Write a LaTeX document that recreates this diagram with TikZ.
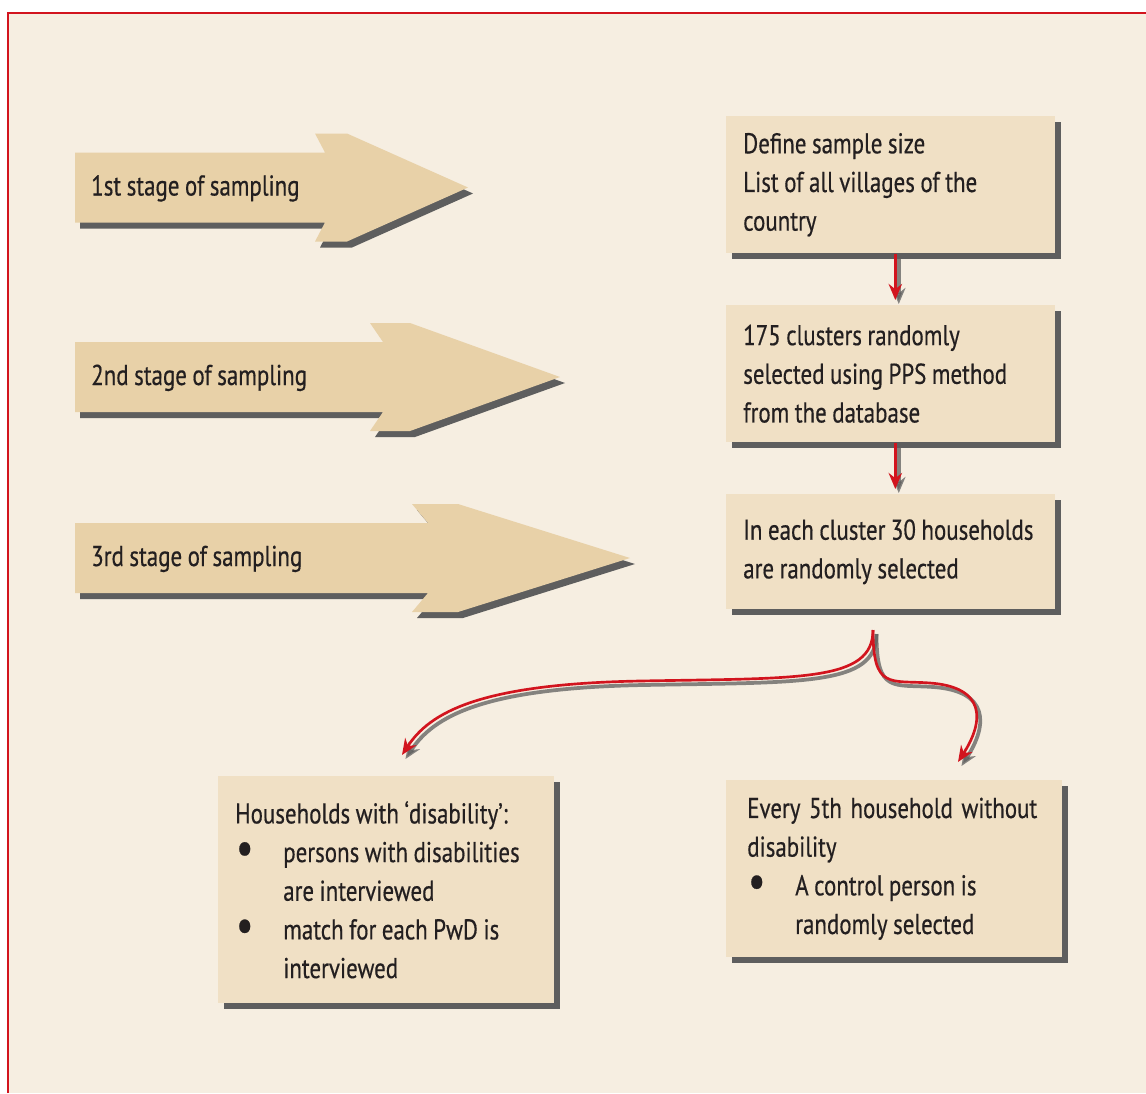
\documentclass[tikz,border=0pt]{standalone}
\usepackage{fontspec}
\setmainfont{PT Sans}[FakeStretch=0.8,FakeBold=0.45,WordSpace=0.9]
\usepackage{graphicx}
\usepackage{tikz}
\usetikzlibrary{arrows.meta,shadows}
\usepackage{xcolor}
\definecolor{pagebg}{HTML}{F6EEE1}
\definecolor{boxfill}{HTML}{F0E0C5}
\definecolor{arrowfill}{HTML}{E8D1A8}
\definecolor{linkred}{HTML}{D2141E}
\definecolor{inkdark}{HTML}{231F20}
\definecolor{shadowgray}{HTML}{5E5E5E}
\newcommand\boxfont{\fontsize{21.5}{29}\selectfont}
\newcommand\blt{\makebox[36pt][l]{\hspace{0.5pt}\raisebox{-1.5pt}{\scalebox{1.7}{\textbullet}}}}
\newcommand\hang{\hspace*{36pt}}
\newcommand\shadowlink[1]{\draw[linkshade] #1; \draw[link] #1;}
\tikzset{
  infobox/.style={fill=boxfill,anchor=north west,inner ysep=0pt,inner xsep=12.75pt,
    align=flush left,text=inkdark,execute at begin node={\spaceskip=0pt\relax},
    drop shadow={shadow xshift=4.5pt,shadow yshift=-4.5pt,fill=shadowgray,opacity=1}},
  stagelabel/.style={anchor=base west,inner sep=0pt,text=inkdark},
  link/.style={draw=linkred,line width=2pt,-{Stealth[length=12pt,width=10pt]}},
  linkshade/.style={draw=shadowgray,line width=2.8pt,opacity=0.75,
    -{Stealth[length=12pt,width=10pt]},transform canvas={shift={(2.6pt,-3pt)}}}
}
\begin{document}
\begin{tikzpicture}[x=0.75pt,y=-0.75pt,font=\boxfont,line join=miter]
\useasboundingbox (0,0) rectangle (1146,1093);
% page frame
\fill[pagebg] (8,13) rectangle (1146,1093);
\draw[linkred,line width=1.5pt] (8,1093) -- (8,13) -- (1146,13);
% stage arrows
\foreach \yc/\nx/\hx/\fx/\tx/\lbl [count=\i] in
  {187.5/325/315/347/468/1st, 377/383/370/410/560/2nd, 558/428/412/458/630/3rd}{
  \fill[shadowgray,shift={(5,6)}] (75,{\yc-35}) -- (\nx,{\yc-35}) -- (\hx,{\yc-54}) -- (\fx,{\yc-54})
    -- (\tx,\yc) -- (\fx,{\yc+54}) -- (\hx,{\yc+54}) -- (\nx,{\yc+35}) -- (75,{\yc+35}) -- cycle;
  \fill[arrowfill] (75,{\yc-35}) -- (\nx,{\yc-35}) -- (\hx,{\yc-54}) -- (\fx,{\yc-54})
    -- (\tx,\yc) -- (\fx,{\yc+54}) -- (\hx,{\yc+54}) -- (\nx,{\yc+35}) -- (75,{\yc+35}) -- cycle;
  \node[stagelabel] (stage\i) at (91,{\yc+8}) {\lbl\ stage of sampling};
}
% boxes
\node[infobox,text width=221.25pt,minimum height=102.75pt] (define) at (726,116)
  {Define sample size\\List of all villages of the\\country};
\node[infobox,text width=221.25pt,minimum height=102.75pt] (clusters) at (726,305)
  {175 clusters randomly\\selected using PPS method\\from the database};
\node[infobox,text width=221.25pt,minimum height=86.25pt] (houses) at (726,494)
  {\mbox{In each cluster 30 households}\\are randomly selected};
\node[infobox,text width=226.5pt,minimum height=170.25pt] (disab) at (218,776)
  {Households with ‘disability’:\\\blt persons with disabilities\\\hang are interviewed\\
   \blt match for each PwD is\\\hang interviewed};
\node[infobox,inner xsep=15.75pt,text width=220.5pt,minimum height=132.75pt] (control) at (726,780)
  {\makebox[217.5pt][s]{Every 5th household without}\\disability\\
   \blt A control person is\\\hang randomly selected};
% links
\coordinate (fork) at (873,630);
\coordinate (leftend) at (402,755);
\coordinate (rightend) at (958,762);
\shadowlink{([xshift=3.4pt]define.south) -- ([xshift=3.4pt,yshift=3.75pt]clusters.north)}
\shadowlink{([xshift=3.4pt]clusters.south) -- ([xshift=3.4pt,yshift=3.75pt]houses.north)}
\shadowlink{(fork) .. controls (873,682) and (800,678) .. (640,681)
  .. controls (480,684) and (430,712) .. (leftend)}
\shadowlink{(fork) .. controls (873,690) and (890,680) .. (930,683)
  .. controls (985,687) and (985,720) .. (rightend)}
\end{tikzpicture}
\end{document}
